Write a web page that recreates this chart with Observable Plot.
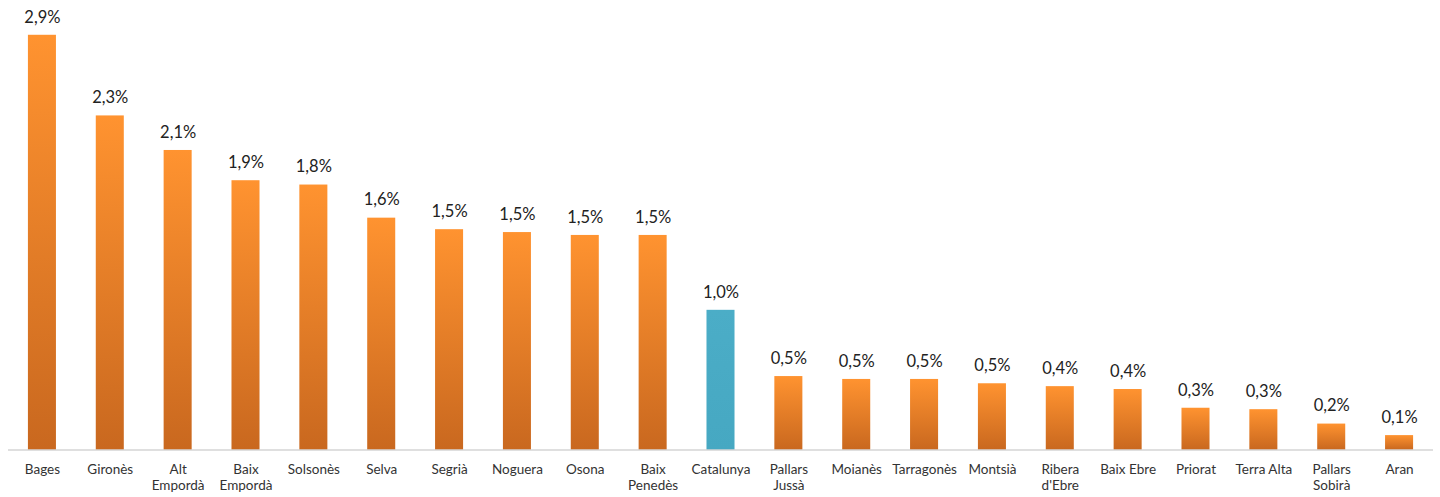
<!DOCTYPE html>
<html>
<head>
<meta charset="utf-8">
<script src="https://cdn.jsdelivr.net/npm/d3@7"></script>
<script src="https://cdn.jsdelivr.net/npm/@observablehq/plot@0.6"></script>
<style>
  html, body { margin: 0; padding: 0; background: #fff; }
  #chart svg { display: block; }
</style>
</head>
<body>
<div id="chart"></div>
<script>
const comarques = ["Bages", "Gironès", "Alt\nEmpordà", "Baix\nEmpordà", "Solsonès", "Selva", "Segrià", "Noguera", "Osona", "Baix\nPenedès", "Catalunya", "Pallars\nJussà", "Moianès", "Tarragonès", "Montsià", "Ribera\nd'Ebre", "Baix Ebre", "Priorat", "Terra Alta", "Pallars\nSobirà", "Aran"];
const valors = [2.88, 2.32, 2.08, 1.87, 1.84, 1.61, 1.53, 1.51, 1.49, 1.49, 0.97, 0.51, 0.49, 0.49, 0.46, 0.44, 0.42, 0.29, 0.28, 0.18, 0.10];
const destacat = "Catalunya";

const data = comarques.map((c, i) => ({comarca: c, valor: valors[i]}));
const fmt = v => v.toFixed(1).replace(".", ",") + "%";

const chart = Plot.plot({
  width: 1440,
  height: 497,
  marginTop: 17.5,
  marginBottom: 47.5,
  marginLeft: 8,
  marginRight: 7,
  style: {fontFamily: "Lato, 'Open Sans', sans-serif", background: "#fff"},
  x: {domain: comarques, paddingInner: 0.587, paddingOuter: 0.2935, round: false},
  y: {domain: [0, 3], axis: null},
  marks: [
    Plot.barY(data, {
      x: "comarca",
      y: "valor",
      fill: d => d.comarca === destacat ? "url(#gradBlue)" : "url(#gradOrange)"
    }),
    Plot.ruleY([0], {stroke: "#BFBFBF", strokeWidth: 1.2}),
    Plot.text(data, {
      x: "comarca",
      y: "valor",
      text: d => fmt(d.valor),
      dy: -18,
      lineAnchor: "middle",
      fontSize: 16.5,
      fill: "#222"
    }),
    Plot.axisX({
      tickSize: 0,
      tickPadding: 12,
      fontSize: 13.5,
      lineHeight: 1.2,
      label: null,
      color: "#333"
    })
  ]
});

const defs = d3.create("svg:defs");
const go = defs.append("linearGradient").attr("id", "gradOrange").attr("x1", 0).attr("y1", 0).attr("x2", 0).attr("y2", 1);
go.append("stop").attr("offset", "0%").attr("stop-color", "#FF9330");
go.append("stop").attr("offset", "100%").attr("stop-color", "#C9681F");
const gb = defs.append("linearGradient").attr("id", "gradBlue").attr("x1", 0).attr("y1", 0).attr("x2", 0).attr("y2", 1);
gb.append("stop").attr("offset", "0%").attr("stop-color", "#4BADC7");
gb.append("stop").attr("offset", "100%").attr("stop-color", "#46A8C2");
chart.insertBefore(defs.node(), chart.firstChild);

document.getElementById("chart").appendChild(chart);
</script>
</body>
</html>
